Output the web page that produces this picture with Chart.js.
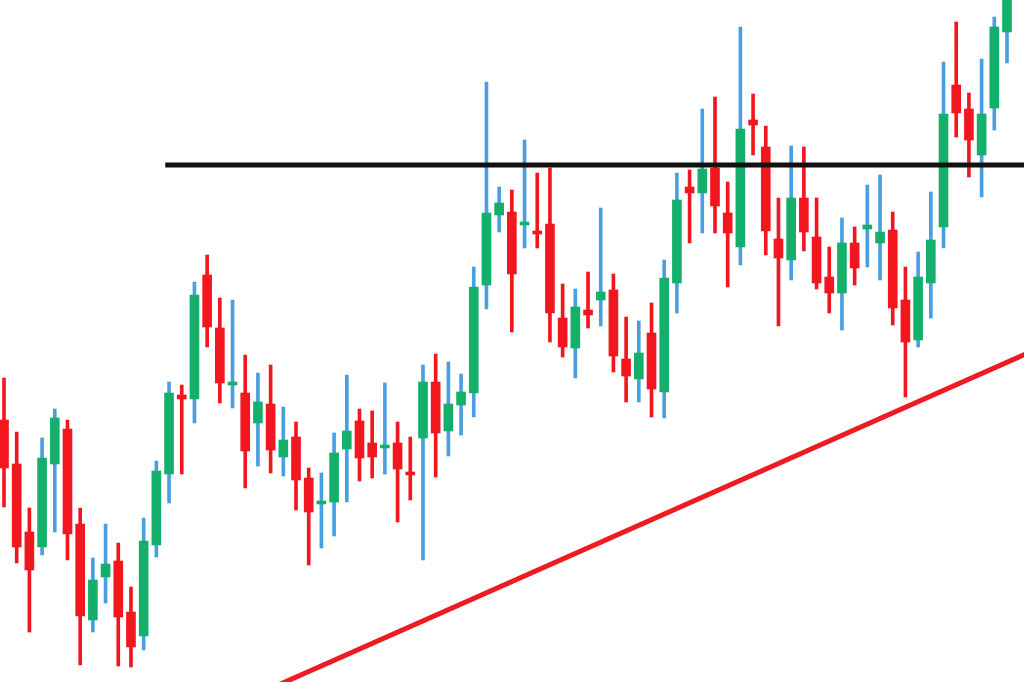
<!DOCTYPE html>
<html>
<head>
<meta charset="utf-8">
<title>Candles</title>
<script src="https://cdn.jsdelivr.net/npm/chart.js@4.4.1/dist/chart.umd.min.js"></script>
<style>
  html, body { margin: 0; padding: 0; background: #fff; }
  #wrap { width: 1024px; height: 682px; position: relative; }
</style>
</head>
<body>
<div id="wrap"><canvas id="candles"></canvas></div>
<script>
// OHLC per session
const opens = [
  126.2, 121.8, 115.0, 113.5, 121.8, 125.3, 115.8, 106.2, 110.5, 112.1,
  107.0, 104.6, 113.7, 120.8, 128.7, 128.3, 140.7, 135.4, 129.7, 128.9,
  125.9, 127.8, 122.5, 124.5, 120.4, 117.8, 118.0, 123.3, 126.1, 123.9,
  123.4, 123.9, 121.0, 124.4, 130.0, 125.1, 127.7, 128.9, 139.7, 146.7,
  147.0, 145.7, 145.1, 145.8, 136.4, 133.4, 137.2, 138.2, 139.2, 132.3,
  130.3, 134.9, 129.0, 139.9, 149.5, 148.9, 151.4, 146.9, 143.5, 156.2,
  153.5, 144.3, 142.2, 148.4, 144.5, 140.5, 138.9, 143.9, 145.3, 143.9,
  145.2, 138.2, 134.2, 139.9, 145.5, 159.7, 157.3, 152.7, 157.4, 165.0
];
const highs = [
  130.4, 125.0, 117.4, 124.4, 127.3, 126.2, 117.4, 112.4, 115.8, 113.9,
  109.5, 116.4, 122.1, 130.0, 129.7, 140.0, 142.7, 138.4, 138.2, 132.7,
  130.9, 131.7, 127.5, 126.0, 121.4, 120.9, 124.9, 130.7, 127.3, 127.1,
  129.9, 126.0, 124.5, 131.7, 132.8, 132.0, 130.8, 141.5, 160.0, 149.5,
  149.2, 154.2, 150.9, 151.4, 139.8, 139.3, 141.0, 147.4, 140.8, 136.5,
  136.1, 137.9, 142.2, 150.9, 151.2, 157.3, 158.5, 150.0, 165.5, 158.8,
  155.6, 148.4, 153.6, 153.5, 148.4, 143.5, 146.4, 145.5, 149.7, 150.7,
  147.0, 141.5, 143.0, 149.0, 162.0, 166.0, 158.9, 162.3, 166.5, 169.2
];
const lows = [
  117.5, 111.9, 105.0, 112.7, 115.0, 112.2, 101.7, 105.0, 107.9, 101.6,
  101.5, 103.2, 112.5, 117.9, 120.8, 125.9, 133.5, 127.9, 127.4, 119.4,
  121.6, 120.9, 120.6, 117.2, 111.7, 113.4, 114.6, 118.0, 120.1, 120.4,
  120.8, 116.0, 118.2, 112.2, 120.5, 122.6, 124.7, 126.5, 137.3, 145.0,
  135.0, 143.4, 143.4, 134.0, 132.5, 130.4, 135.4, 135.6, 131.0, 128.0,
  128.0, 126.5, 126.4, 136.9, 143.9, 144.9, 144.9, 139.5, 141.7, 152.7,
  142.7, 135.6, 140.2, 143.1, 139.3, 136.9, 135.2, 139.7, 141.5, 140.2,
  135.7, 128.5, 133.5, 136.4, 143.4, 154.5, 150.5, 148.5, 155.2, 161.9
];
const closes = [
  121.4, 113.5, 111.2, 122.4, 126.4, 114.8, 106.6, 110.2, 111.8, 106.5,
  103.5, 114.1, 121.1, 128.9, 128.3, 138.7, 135.5, 129.9, 130.0, 123.1,
  128.0, 123.2, 124.2, 120.2, 117.0, 118.1, 122.9, 125.1, 122.4, 122.5,
  123.7, 121.3, 120.7, 130.0, 124.9, 127.8, 129.0, 139.5, 146.9, 147.9,
  140.8, 146.0, 144.8, 136.9, 133.5, 137.5, 136.7, 139.0, 132.6, 130.6,
  132.9, 129.3, 140.4, 148.2, 148.9, 151.3, 147.6, 144.9, 155.3, 155.7,
  145.1, 142.4, 148.4, 145.0, 139.9, 138.9, 143.9, 141.4, 145.7, 145.0,
  137.4, 134.0, 140.5, 144.2, 156.8, 156.9, 154.2, 156.8, 165.5, 168.7
];
const sessions = opens.map((_, i) => `${i + 1}`);

// drawn levels
const resistanceLevel = 151.7;
const resistanceSpan = [12.7, 80.4];
const trendX = [20, 81];
const trendY = [98.8, 133.1];

const UP = '#14b06b';
const DOWN = '#f2161f';
const UP_WICK = '#4a9fe0';

const isUp = opens.map((o, i) => closes[i] >= o);

new Chart(document.getElementById('candles'), {
  type: 'bar',
  data: {
    labels: sessions,
    datasets: [
      {
        type: 'line',
        xAxisID: 'xl',
        data: resistanceSpan.map((x) => ({ x, y: resistanceLevel })),
        borderColor: '#111',
        borderWidth: 5,
        pointRadius: 0,
        clip: false,
        order: 0
      },
      {
        data: opens.map((o, i) => [o, closes[i]]),
        backgroundColor: isUp.map((u) => (u ? UP : DOWN)),
        barThickness: 9,
        grouped: false,
        borderWidth: 0,
        clip: false,
        order: 1
      },
      {
        data: lows.map((l, i) => [l, highs[i]]),
        backgroundColor: isUp.map((u) => (u ? UP_WICK : DOWN)),
        barThickness: 3,
        grouped: false,
        borderWidth: 0,
        clip: false,
        order: 2
      },
      {
        type: 'line',
        xAxisID: 'xl',
        data: trendX.map((x, i) => ({ x, y: trendY[i] })),
        borderColor: '#ec1c22',
        borderWidth: 5,
        pointRadius: 0,
        clip: false,
        order: 3
      }
    ]
  },
  options: {
    responsive: true,
    maintainAspectRatio: false,
    animation: false,
    layout: { padding: { left: 4, right: 17, top: 0, bottom: 0 } },
    plugins: { legend: { display: false }, tooltip: { enabled: false } },
    scales: {
      x: { type: 'category', offset: false, display: false },
      xl: { type: 'linear', offset: false, min: 0, max: sessions.length - 1, display: false },
      y: { min: 100, max: 168.2, display: false }
    }
  }
});
</script>
</body>
</html>
